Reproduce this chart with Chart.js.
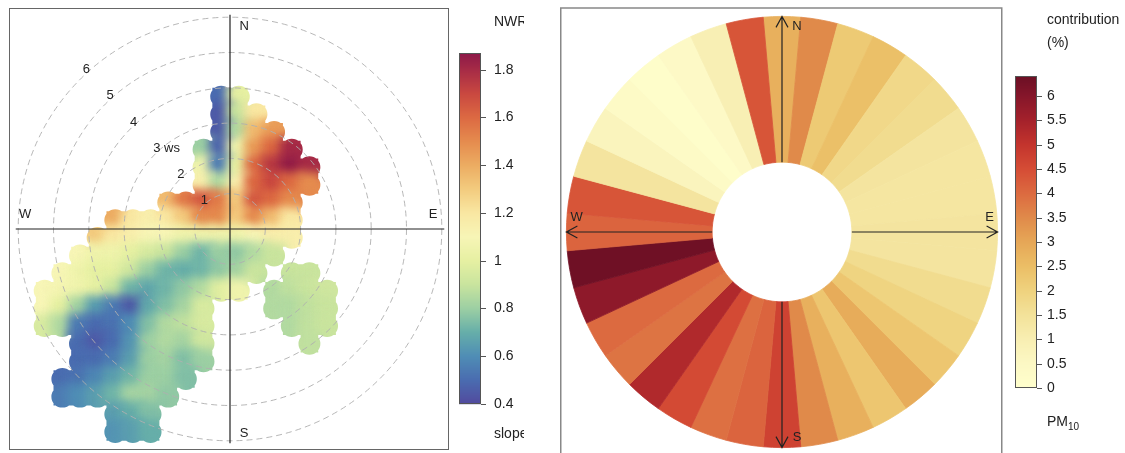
<!DOCTYPE html>
<html>
<head>
  <meta charset="UTF-8">
  <title>NWR slope and PM10 contribution</title>
  <style>
    body {
      margin: 0;
      background: #fff;
      width: 1125px;
      height: 453px;
      position: relative;
      overflow: hidden;
    }
    #surface { position: absolute; left: 0; top: 0; }
    #rose { position: absolute; left: 560px; top: 0; }
  </style>
  <script src="https://cdn.jsdelivr.net/npm/chart.js"></script>
</head>
<body>
  <canvas id="surface" width="524" height="453"></canvas>
  <canvas id="rose" width="565" height="453"></canvas>
  <script>
    const _ = null;

    const gridX = [-5.25, -4.75, -4.25, -3.75, -3.25, -2.75, -2.25, -1.75, -1.25,
                   -0.75, -0.25, 0.25, 0.75, 1.25, 1.75, 2.25, 2.75];
    const gridY = [3.75, 3.25, 2.75, 2.25, 1.75, 1.25, 0.75, 0.25, -0.25, -0.75,
                   -1.25, -1.75, -2.25, -2.75, -3.25, -3.75, -4.25, -4.75, -5.25, -5.75];
    const slope = [
      [_, _, _, _, _, _, _, _, _, _, 0.5, 1.0, _, _, _, _, _],
      [_, _, _, _, _, _, _, _, _, _, 0.45, 0.9, 1.2, _, _, _, _],
      [_, _, _, _, _, _, _, _, _, _, 0.45, 0.85, 1.35, 1.45, _, _, _],
      [_, _, _, _, _, _, _, _, _, 0.8, 0.48, 1.05, 1.45, 1.6, 1.8, _, _],
      [_, _, _, _, _, _, _, _, _, 1.05, 0.55, 1.0, 1.6, 1.75, 1.85, 1.8, _],
      [_, _, _, _, _, _, _, _, _, 1.15, 0.85, 1.15, 1.6, 1.7, 1.6, 1.5, _],
      [_, _, _, _, _, _, _, 1.35, 1.55, 1.65, 1.55, 1.3, 1.65, 1.6, 1.5, _, _],
      [_, _, _, _, 1.4, 1.2, 1.15, 1.2, 1.3, 1.5, 1.5, 1.3, 1.5, 1.35, 1.2, _, _],
      [_, _, _, 1.3, 1.2, 1.15, 1.1, 1.1, 1.05, 1.05, 1.05, 1.05, 1.1, 1.15, 1.15, _, _],
      [_, _, 1.1, 1.05, 1.05, 1.0, 0.95, 0.9, 0.8, 0.72, 0.8, 0.78, 0.85, 0.9, _, _, _],
      [_, 1.1, 1.05, 1.0, 1.0, 0.92, 0.8, 0.72, 0.7, 0.72, 0.78, 0.82, 0.9, _, 0.9, 0.9, _],
      [1.1, 1.08, 1.05, 1.0, 0.9, 0.72, 0.68, 0.72, 0.78, 0.85, 0.98, 1.05, _, 0.85, 0.88, 0.9, 0.92],
      [1.1, 1.0, 0.82, 0.65, 0.55, 0.45, 0.68, 0.75, 0.82, 0.95, _, _, _, 0.85, 0.85, 0.88, 0.9],
      [0.95, 0.85, 0.55, 0.5, 0.52, 0.6, 0.75, 0.85, 0.88, 0.95, _, _, _, _, 0.85, 0.88, 0.9],
      [_, _, 0.5, 0.45, 0.5, 0.62, 0.8, 0.85, 0.82, 0.92, _, _, _, _, _, 0.88, _],
      [_, _, 0.5, 0.5, 0.55, 0.65, 0.8, 0.82, 0.75, 0.8, _, _, _, _, _, _, _],
      [_, 0.5, 0.52, 0.58, 0.65, 0.72, 0.8, 0.8, 0.75, _, _, _, _, _, _, _, _],
      [_, 0.55, 0.6, 0.65, 0.72, 0.82, 0.82, 0.78, _, _, _, _, _, _, _, _, _],
      [_, _, _, _, 0.65, 0.7, 0.75, _, _, _, _, _, _, _, _, _, _],
      [_, _, _, _, 0.62, 0.65, 0.7, _, _, _, _, _, _, _, _, _, _]
    ];
    const wsRings = [1, 2, 3, 4, 5, 6];
    const slopeTicks = [0.4, 0.6, 0.8, 1.0, 1.2, 1.4, 1.6, 1.8];

    // right panel: PM10 contribution (%) by 10 degree wind sector
    const dirs = [0, 10, 20, 30, 40, 50, 60, 70, 80, 90, 100, 110, 120, 130, 140, 150, 160, 170,
                  180, 190, 200, 210, 220, 230, 240, 250, 260, 270, 280, 290, 300, 310, 320, 330, 340, 350];
    const contribution = [2.8, 3.5, 2.2, 2.45, 1.8, 1.7, 1.4, 1.35, 1.35, 1.4, 1.4, 1.7, 1.95, 2.3, 2.9, 2.3, 2.8, 3.5,
                          4.7, 4.1, 3.9, 4.55, 5.3, 3.85, 4.0, 5.85, 6.35, 4.1, 4.35, 1.4, 0.7, 0.35, 0.15, 0.4, 0.95, 4.35];
    const contribTicks = [0, 0.5, 1, 1.5, 2, 2.5, 3, 3.5, 4, 4.5, 5, 5.5, 6];

    const FONT = '"Liberation Sans", Arial, sans-serif';

    const slopeRamp = [
      [0.40, '#524a9e'], [0.50, '#4a6cb0'], [0.60, '#4f8db5'], [0.70, '#66aea9'],
      [0.80, '#9ccfa3'], [0.90, '#c9e49e'], [1.00, '#e6f0a2'], [1.10, '#f7f5b6'],
      [1.20, '#f9e7a2'], [1.30, '#f3cb7e'], [1.40, '#ecac62'], [1.50, '#e58b4e'],
      [1.60, '#dc6942'], [1.70, '#c94840'], [1.80, '#a62b46'], [1.87, '#8c1848']
    ];
    const contribRamp = [
      [0, '#ffffcc'], [0.5, '#fcf8c4'], [1, '#f8eeb2'], [1.5, '#f3e29a'], [2, '#efd27e'],
      [2.5, '#ebbe66'], [3, '#e6a757'], [3.5, '#e08a4a'], [4, '#dc6a40'], [4.5, '#d54c35'],
      [5, '#c3342d'], [5.5, '#a4212b'], [6, '#85162a'], [6.41, '#6b0f24']
    ];

    function rgbOf(hex) {
      return [1, 3, 5].map(i => parseInt(hex.slice(i, i + 2), 16));
    }
    function rampColor(stops, v) {
      if (v <= stops[0][0]) return stops[0][1];
      for (let i = 1; i < stops.length; i++) {
        if (v <= stops[i][0]) {
          const t = (v - stops[i - 1][0]) / (stops[i][0] - stops[i - 1][0]);
          const a = rgbOf(stops[i - 1][1]), b = rgbOf(stops[i][1]);
          return `rgb(${a.map((c, k) => Math.round(c + (b[k] - c) * t)).join(',')})`;
        }
      }
      return stops[stops.length - 1][1];
    }

    // vertical colour key with ticks on the right
    function drawKey(ctx, box, stops, ticks, fmt, gap) {
      const toY = v => box.bottom - (v - box.min) / (box.max - box.min) * (box.bottom - box.top);
      for (let yy = box.top; yy < box.bottom; yy += 1) {
        const v = box.max - (yy - box.top + 0.5) / (box.bottom - box.top) * (box.max - box.min);
        ctx.fillStyle = rampColor(stops, v);
        ctx.fillRect(box.x, yy, box.w, 1.2);
      }
      ctx.strokeStyle = '#555';
      ctx.lineWidth = 1;
      ctx.strokeRect(box.x + 0.5, box.top + 0.5, box.w - 1, box.bottom - box.top - 1);
      ctx.fillStyle = '#222';
      ctx.font = '14px ' + FONT;
      ctx.textAlign = 'left';
      ctx.textBaseline = 'middle';
      ticks.forEach(t => {
        const yy = Math.round(toY(t)) + 0.5;
        ctx.beginPath();
        ctx.moveTo(box.x + box.w, yy);
        ctx.lineTo(box.x + box.w + 5, yy);
        ctx.stroke();
        ctx.fillText(fmt(t), box.x + box.w + gap, yy);
      });
    }

    const cells = [];
    slope.forEach((row, i) => row.forEach((v, j) => {
      if (v !== null) cells.push({ x: gridX[j], y: gridY[i], v });
    }));

    const cellPx = chart => {
      const s = chart.scales.x;
      return s.getPixelForValue(0.5) - s.getPixelForValue(0);
    };

    const surfaceDecor = {
      id: 'surfaceDecor',
      beforeDatasetsDraw(chart) {
        // soften the gridded surface like a smoothed field
        chart.ctx.save();
        chart.ctx.filter = 'blur(5px)';
      },
      afterDatasetsDraw(chart) {
        const { ctx, chartArea: a, scales: { x, y } } = chart;
        ctx.restore();
        const meta = chart.getDatasetMeta(0);

        // solid cells underneath, so the blurred rim is not faded
        ctx.save();
        ctx.globalCompositeOperation = 'destination-over';
        meta.controller.draw();
        ctx.restore();

        // keep colour only inside the sampled cells
        const side = cellPx(chart);
        ctx.save();
        ctx.globalCompositeOperation = 'destination-in';
        ctx.beginPath();
        meta.data.forEach(pt => {
          ctx.moveTo(pt.x + side * 0.62, pt.y);
          ctx.arc(pt.x, pt.y, side * 0.62, 0, Math.PI * 2);
          ctx.rect(pt.x - side / 2, pt.y - side / 2, side, side);
        });
        ctx.fillStyle = '#000';
        ctx.fill('nonzero');
        ctx.restore();

        const px = v => x.getPixelForValue(v);
        const py = v => y.getPixelForValue(v);
        const cx = px(0), cy = py(0);
        ctx.save();

        ctx.setLineDash([6, 4]);
        ctx.strokeStyle = 'rgba(175,175,175,0.9)';
        ctx.lineWidth = 1;
        wsRings.forEach(k => {
          ctx.beginPath();
          ctx.ellipse(cx, cy, px(k) - cx, cy - py(k), 0, 0, Math.PI * 2);
          ctx.stroke();
        });
        ctx.setLineDash([]);

        ctx.strokeStyle = '#222';
        ctx.lineWidth = 1.2;
        ctx.beginPath();
        ctx.moveTo(cx, py(6.07));
        ctx.lineTo(cx, py(-6.07));
        ctx.moveTo(px(-6.07), cy);
        ctx.lineTo(px(6.07), cy);
        ctx.stroke();

        ctx.fillStyle = '#222';
        ctx.font = '13px ' + FONT;
        ctx.textBaseline = 'middle';
        const ang = 42 * Math.PI / 180;
        wsRings.forEach(k => {
          const r = k + 0.08;
          const lx = px(-r * Math.sin(ang)), ly = py(r * Math.cos(ang));
          if (k === 3) {
            ctx.textAlign = 'left';
            ctx.fillText('3 ws', lx - 4, ly);
          } else {
            ctx.textAlign = 'center';
            ctx.fillText(String(k), lx, ly);
          }
        });

        ctx.textAlign = 'center';
        ctx.fillText('N', px(0.4), py(5.75));
        ctx.fillText('S', px(0.4), py(-5.78));
        ctx.fillText('E', px(5.75), py(0.4));
        ctx.fillText('W', px(-5.8), py(0.4));

        ctx.strokeStyle = '#666';
        ctx.lineWidth = 1;
        ctx.strokeRect(a.left + 0.5, a.top + 0.5, a.width - 1, a.height - 1);

        drawKey(ctx, { x: 459, w: 22, top: 53, bottom: 404, min: 0.4, max: 1.87 },
                slopeRamp, slopeTicks, t => (t === 1 ? '1' : t.toFixed(1)), 13);
        ctx.fillStyle = '#222';
        ctx.font = '14px ' + FONT;
        ctx.textAlign = 'left';
        ctx.fillText('NWR', 494, 22);
        ctx.fillText('slope', 494, 434);
        ctx.restore();
      }
    };

    new Chart(document.getElementById('surface'), {
      type: 'scatter',
      data: {
        datasets: [{
          data: cells,
          pointStyle: 'rect',
          pointBorderWidth: 0,
          pointBackgroundColor: c => rampColor(slopeRamp, c.raw ? c.raw.v : 1),
          pointRadius: c => (cellPx(c.chart) * 1.4) / Math.SQRT2
        }]
      },
      options: {
        responsive: false,
        animation: false,
        events: [],
        layout: { padding: { left: 9, right: 75, top: 8, bottom: 3 } },
        scales: {
          x: { type: 'linear', min: -6.2606, max: 6.204, display: false },
          y: { type: 'linear', min: -6.2606, max: 6.2606, display: false }
        },
        plugins: { legend: { display: false }, tooltip: { enabled: false } }
      },
      plugins: [surfaceDecor]
    });

    const roseDecor = {
      id: 'roseDecor',
      afterDatasetsDraw(chart) {
        const { ctx } = chart;
        const arc = chart.getDatasetMeta(0).data[0];
        const { x: cx, y: cy, innerRadius: r0, outerRadius: r1 } = arc.getProps(['x', 'y', 'innerRadius', 'outerRadius']);
        ctx.save();

        ctx.strokeStyle = '#888';
        ctx.lineWidth = 1.5;
        ctx.strokeRect(0.75, 8, 441, 470);

        ctx.strokeStyle = '#222';
        ctx.lineWidth = 1.2;
        [[0, -1], [1, 0], [0, 1], [-1, 0]].forEach(([dx, dy]) => {
          const x0 = cx + dx * r0, y0 = cy + dy * r0;
          const x1 = cx + dx * r1, y1 = cy + dy * r1;
          ctx.beginPath();
          ctx.moveTo(x0, y0);
          ctx.lineTo(x1, y1);
          const back = 11, side = 6;
          ctx.moveTo(x1 - dx * back - dy * side, y1 - dy * back + dx * side);
          ctx.lineTo(x1, y1);
          ctx.lineTo(x1 - dx * back + dy * side, y1 - dy * back - dx * side);
          ctx.stroke();
        });

        ctx.fillStyle = '#222';
        ctx.font = '13px ' + FONT;
        ctx.textAlign = 'center';
        ctx.textBaseline = 'middle';
        const f = 0.955;
        ctx.fillText('N', cx + 15, cy - r1 * f);
        ctx.fillText('S', cx + 15, cy + r1 * f);
        ctx.fillText('E', cx + r1 * 0.963, cy - 15);
        ctx.fillText('W', cx - r1 * 0.953, cy - 15);

        drawKey(ctx, { x: 455, w: 22, top: 76, bottom: 388, min: 0, max: 6.41 },
                contribRamp, contribTicks, t => String(t), 10);
        ctx.fillStyle = '#222';
        ctx.font = '14px ' + FONT;
        ctx.textAlign = 'left';
        ctx.fillText('contribution', 487, 20);
        ctx.fillText('(%)', 487, 43);
        ctx.fillText('PM', 487, 422);
        const w = ctx.measureText('PM').width;
        ctx.font = '10px ' + FONT;
        ctx.fillText('10', 487 + w, 427);
        ctx.restore();
      }
    };

    const sectorColours = contribution.map(v => rampColor(contribRamp, v));
    new Chart(document.getElementById('rose'), {
      type: 'doughnut',
      data: {
        labels: dirs.map(d => d + '°'),
        datasets: [{
          data: dirs.map(() => 10),
          backgroundColor: sectorColours,
          borderColor: sectorColours,
          borderWidth: 0.8,
          hoverOffset: 0,
          offset: 0
        }]
      },
      options: {
        responsive: false,
        animation: false,
        events: [],
        rotation: -5,
        cutout: '32.4%',
        layout: { padding: { left: 6, right: 127, top: 16, bottom: 5 } },
        plugins: { legend: { display: false }, tooltip: { enabled: false } }
      },
      plugins: [roseDecor]
    });
  </script>
</body>
</html>
